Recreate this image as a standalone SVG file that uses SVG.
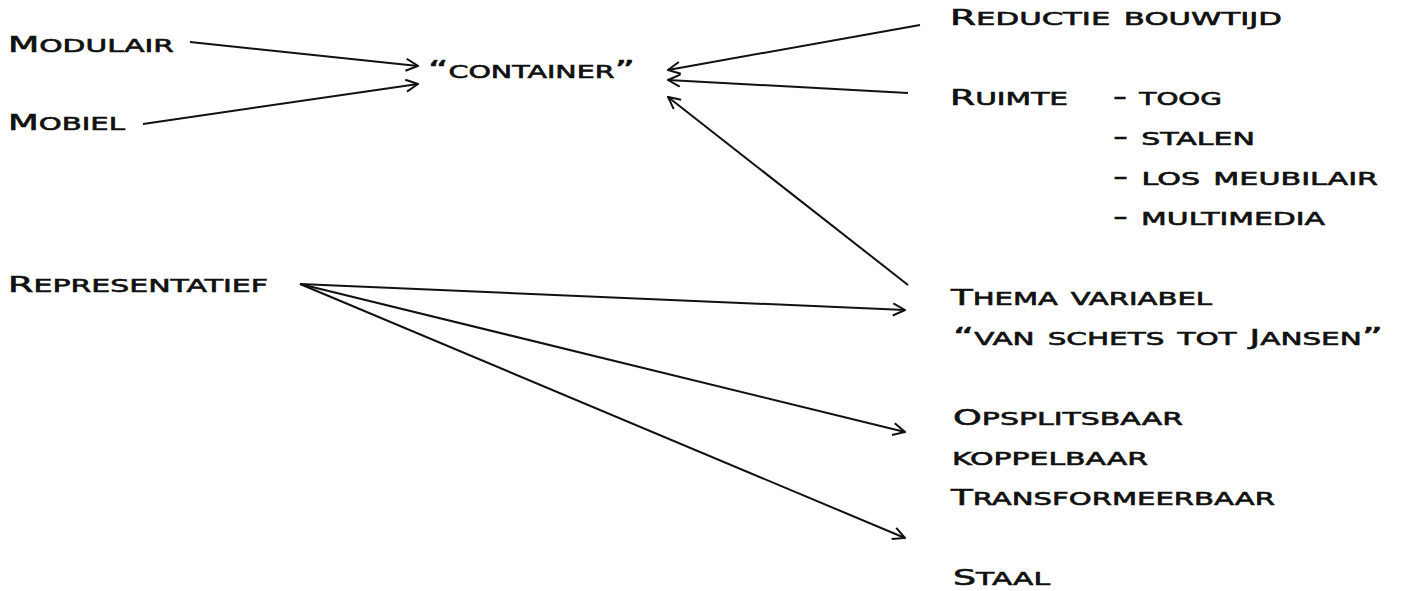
<svg xmlns="http://www.w3.org/2000/svg" width="1417" height="591" viewBox="0 0 1417 591">
<style>
text{font-family:"DejaVu Sans","Liberation Sans",sans-serif;font-size:25px;font-weight:normal;font-variant:small-caps;fill:#111;stroke:#111;stroke-width:0.6}
.k{font-size:22px}
.c{fill:none;stroke:#111;stroke-width:2;marker-end:url(#ah)}
</style>
<defs>
<marker id="ah" viewBox="0 0 14 14" refX="13" refY="7" markerWidth="14" markerHeight="14" markerUnits="userSpaceOnUse" orient="auto">
<path d="M1,1 L13,7 L1,13" fill="none" stroke="#111" stroke-width="2"/>
</marker>
</defs>
<rect width="1417" height="591" fill="#fff"/>
<g id="connectors">
<line class="c" x1="190" y1="42" x2="418" y2="66"/>
<line class="c" x1="143" y1="124" x2="418" y2="84"/>
<line class="c" x1="920" y1="25" x2="668" y2="70"/>
<line class="c" x1="908" y1="93" x2="668" y2="80"/>
<line class="c" x1="908" y1="285" x2="668" y2="97"/>
<line class="c" x1="300" y1="284" x2="905" y2="310"/>
<line class="c" x1="300" y1="284" x2="905" y2="432"/>
<line class="c" x1="300" y1="284" x2="905" y2="538"/>
</g>
<g id="modulair"><text x="8" y="52" textLength="166" lengthAdjust="spacingAndGlyphs"><tspan class="k">M</tspan>odulair</text></g>
<g id="mobiel"><text x="8" y="130" textLength="117" lengthAdjust="spacingAndGlyphs"><tspan class="k">M</tspan>obiel</text></g>
<g id="container"><text x="428" y="78" textLength="207" lengthAdjust="spacingAndGlyphs">“container”</text></g>
<g id="reductie"><text x="950" y="25" textLength="332" lengthAdjust="spacingAndGlyphs"><tspan class="k">R</tspan>eductie bouwtijd</text></g>
<g id="ruimte">
<text x="950" y="105" textLength="118" lengthAdjust="spacingAndGlyphs"><tspan class="k">R</tspan>uimte</text>
<text x="1113" y="105" textLength="109" lengthAdjust="spacingAndGlyphs">- toog</text>
<text x="1113" y="145" textLength="142" lengthAdjust="spacingAndGlyphs">- stalen</text>
<text x="1113" y="185" textLength="265" lengthAdjust="spacingAndGlyphs">- los meubilair</text>
<text x="1113" y="225" textLength="212" lengthAdjust="spacingAndGlyphs">- multimedia</text>
</g>
<g id="representatief"><text x="8" y="292" textLength="260" lengthAdjust="spacingAndGlyphs"><tspan class="k">R</tspan>epresentatief</text></g>
<g id="thema">
<text x="951" y="305" textLength="261" lengthAdjust="spacingAndGlyphs"><tspan class="k">T</tspan>hema variabel</text>
<text x="953" y="345" textLength="430" lengthAdjust="spacingAndGlyphs">“van schets tot <tspan class="k">J</tspan>ansen”</text>
</g>
<g id="opsplitsbaar">
<text x="953" y="425" textLength="230" lengthAdjust="spacingAndGlyphs"><tspan class="k">O</tspan>psplitsbaar</text>
<text x="952" y="465" textLength="196" lengthAdjust="spacingAndGlyphs">koppelbaar</text>
<text x="951" y="505" textLength="324" lengthAdjust="spacingAndGlyphs"><tspan class="k">T</tspan>ransformeerbaar</text>
</g>
<g id="staal"><text x="953" y="585" textLength="97" lengthAdjust="spacingAndGlyphs"><tspan class="k">S</tspan>taal</text></g>
</svg>
